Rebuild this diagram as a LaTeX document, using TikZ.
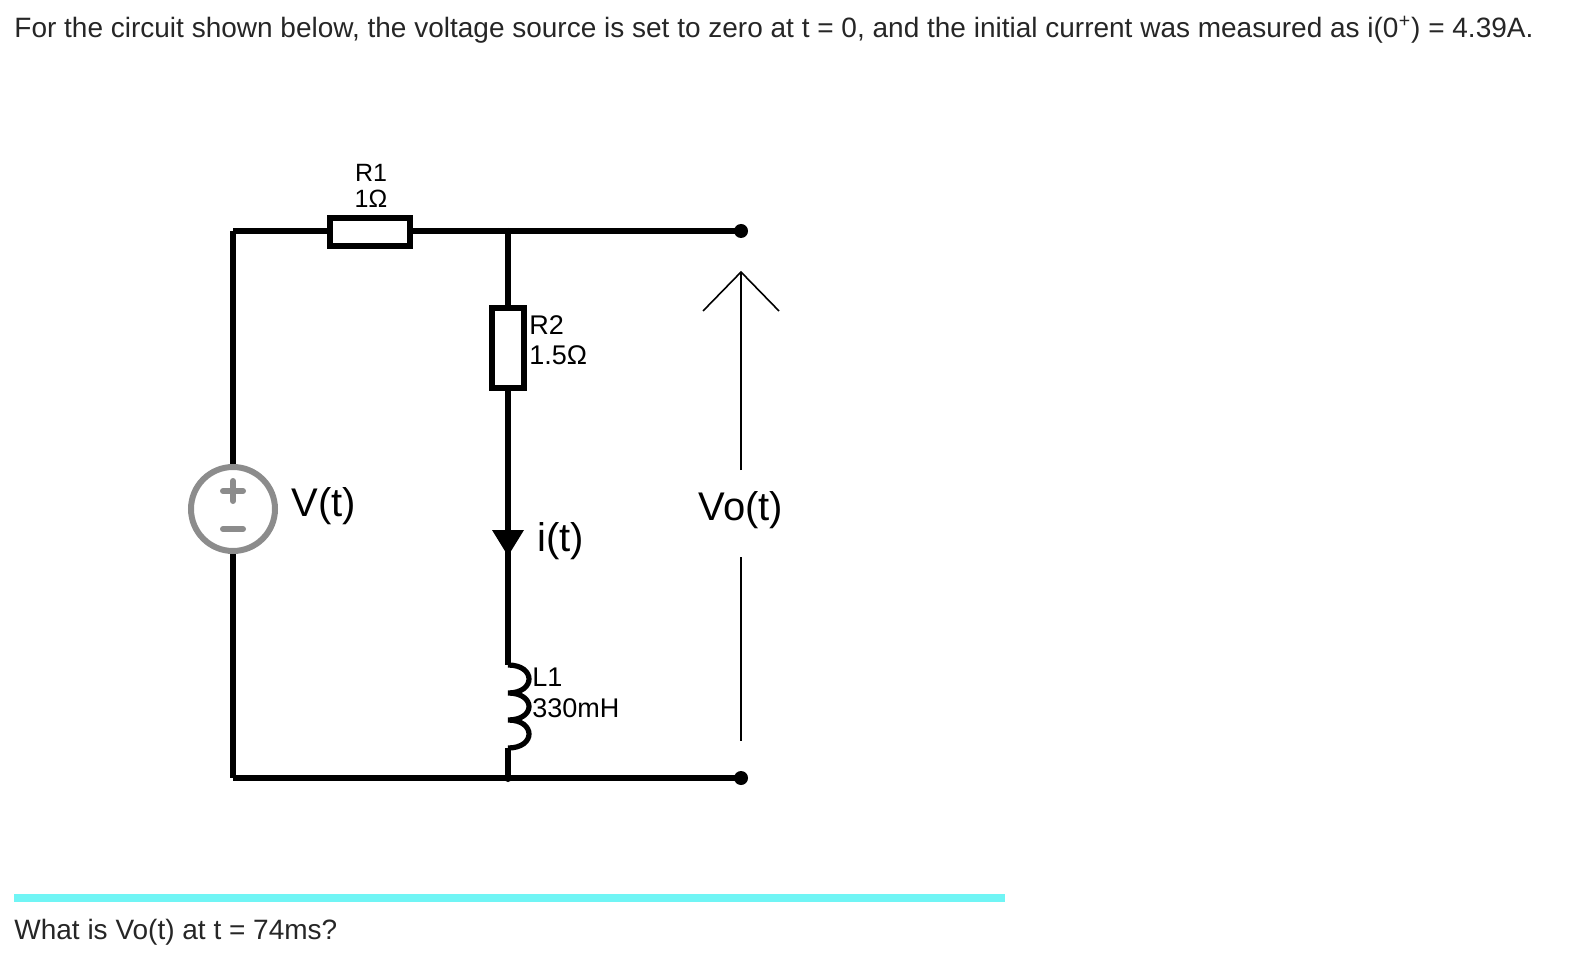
\documentclass[tikz,border=0pt]{standalone}
\usepackage{fontspec}
\setmainfont{Liberation Sans}
\begin{document}
\begin{tikzpicture}[x=0.5pt,y=-0.5pt,
  wire/.style={line width=2.6pt,black},
  thin/.style={line width=0.8pt,black},
  lbl/.style={inner sep=0pt,font=\fontsize{13.5}{13.5}\selectfont},
  big/.style={inner sep=0pt,font=\fontsize{20}{20}\selectfont},
  txt/.style={inner sep=0pt,anchor=west,font=\fontsize{14}{14}\selectfont,text=black!85}]
\useasboundingbox (0,0) rectangle (1582,956);
\node[txt] (q1) at (14,30) {For the circuit shown below, the voltage source is set to zero at t = 0, and the initial current was measured as i(0\textsuperscript{+}) = 4.39A.};
\node[txt] (q2) at (14,932) {What is Vo(t) at t = 74ms?};
\fill[color={rgb,255:red,112;green,245;blue,245}] (14,894) rectangle (1005,902);
% nodes
\coordinate (tl) at (233,231); \coordinate (bl) at (233,778);
\coordinate (tm) at (508,231); \coordinate (bm) at (508,778);
\coordinate (tr) at (741,231); \coordinate (br) at (741,778);
% wires
\draw[wire] (tl) -- (330,231) (410,231) -- (tm) -- (tr);
\draw[wire] (bl) -- (bm) -- (br);
\draw[wire] (tl) -- (233,466) (233,552) -- (bl);
\draw[wire] (tm) -- (508,308) (508,388) -- (508,665);
\draw[wire] (508,748) -- (bm);
\fill (tr) circle (7); \fill (br) circle (7); \fill (tm) circle (3); \fill (bm) circle (4);
% R1
\draw[wire,fill=white] (330,218) rectangle (410,246);
\node[lbl,font=\fontsize{12.5}{12.5}\selectfont] (r1a) at (371,173) {R1};
\node[lbl,font=\fontsize{12.5}{12.5}\selectfont] (r1b) at (371,199) {1Ω};
% R2
\draw[wire,fill=white] (492,308) rectangle (524,388);
\node[lbl,anchor=west] (r2a) at (529,325) {R2};
\node[lbl,anchor=west] (r2b) at (529,355) {1.5Ω};
% source
\draw[line width=3pt,black!45] (233,509) circle (42);
\draw[line width=3pt,black!45,line cap=round] (233,481) -- (233,501) (223,491) -- (243,491) (223,529) -- (243,529);
\node[big,anchor=west] (vt) at (291,506) {V(t)};
% current arrow
\fill (492,530) -- (524,530) -- (508,556) -- cycle;
\node[big,anchor=west] (it) at (537,541) {i(t)};
% inductor
\draw[line width=2.6pt] (508,665) .. controls (536,665) and (536,693) .. (508,693)
  .. controls (536,693) and (536,720) .. (508,720)
  .. controls (536,720) and (536,748) .. (508,748);
\node[lbl,anchor=west] (l1a) at (532,677) {L1};
\node[lbl,anchor=west] (l1b) at (532,708) {330mH};
% Vo arrow
\draw[thin] (741,470) -- (741,273);
\draw[thin] (703,311) -- (741,272) -- (779,311);
\draw[thin] (741,557) -- (741,741);
\node[big] (vo) at (741,510) {Vo(t)};
\end{tikzpicture}
\end{document}
